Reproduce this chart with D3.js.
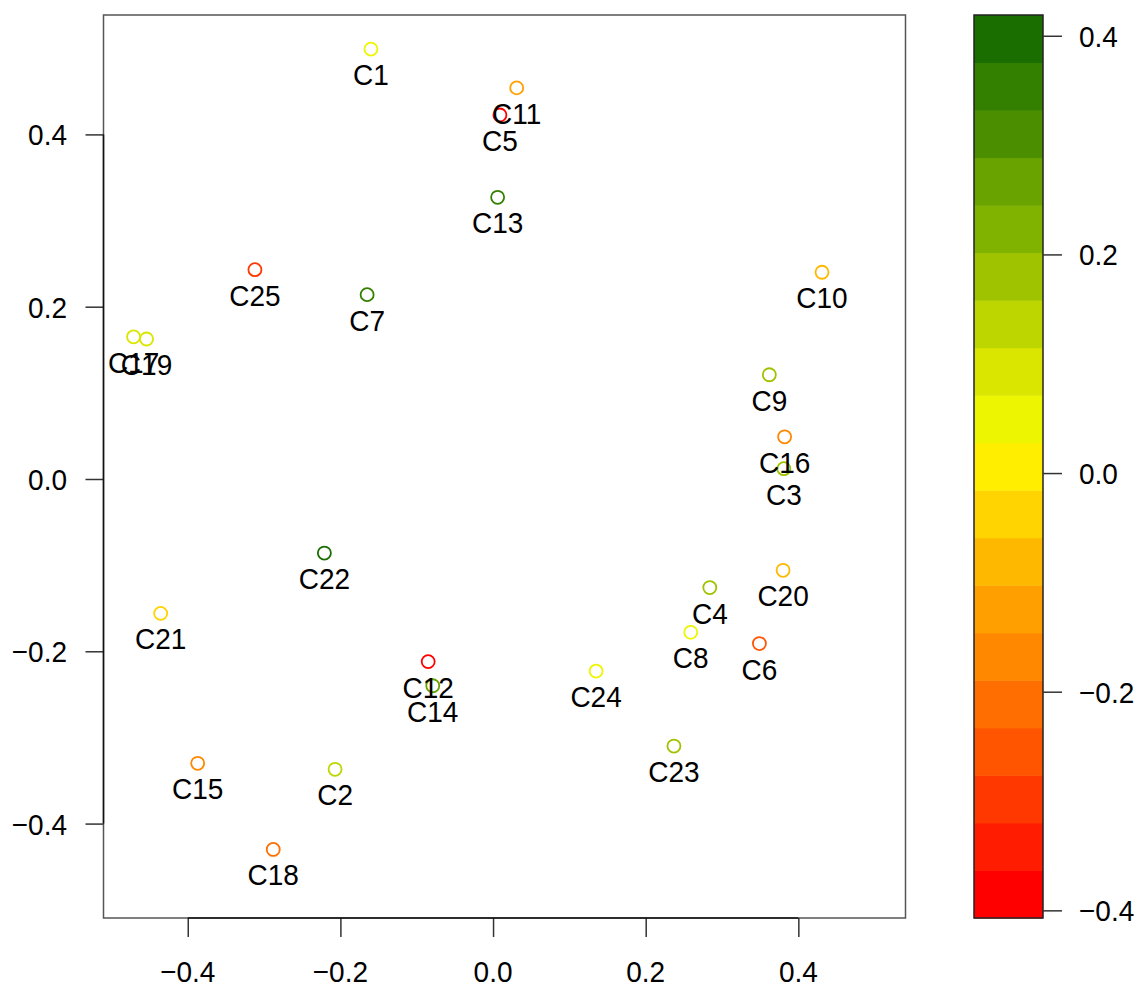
<!DOCTYPE html>
<html>
<head>
<meta charset="utf-8">
<script src="https://cdn.jsdelivr.net/npm/d3@7"></script>
<style>
  html, body { margin: 0; padding: 0; background: #ffffff; }
  svg { display: block; font-family: "Liberation Sans", Arial, Helvetica, sans-serif; }
</style>
</head>
<body>
<div id="chart"></div>
<script>
// ---------- data ----------
const pointLabels = ["C1","C2","C3","C4","C5","C6","C7","C8","C9","C10","C11","C12","C13",
                     "C14","C15","C16","C17","C18","C19","C20","C21","C22","C23","C24","C25"];
const xValues = [-0.160,-0.207,0.381,0.284,0.009,0.349,-0.165,0.259,0.362,0.431,0.031,-0.085,0.006,
                 -0.079,-0.387,0.382,-0.471,-0.288,-0.454,0.380,-0.4355,-0.221,0.237,0.135,-0.312];
const yValues = [0.499,-0.337,0.012,-0.126,0.4225,-0.191,0.214,-0.178,0.121,0.240,0.454,-0.212,0.327,
                 -0.240,-0.330,0.049,0.165,-0.430,0.1625,-0.106,-0.156,-0.086,-0.310,-0.223,0.243];
const colorValues = [0.04,0.13,0.20,0.17,-0.39,-0.25,0.35,0.05,0.18,-0.06,-0.12,-0.40,0.34,
                     0.27,-0.16,-0.17,0.09,-0.21,0.09,-0.08,-0.04,0.41,0.19,0.03,-0.30];

const axisTicks = [-0.4,-0.2,0.0,0.2,0.4];
const colorbarTicks = [-0.4,-0.2,0.0,0.2,0.4];
const xLimits = [-0.5104, 0.5404];
const yLimits = [-0.5096, 0.5386];
const colorLimits = [-0.407, 0.419];
const paletteColors = ["#FF0000","#FF1C00","#FF3800","#FF5500","#FF6E00","#FF8800","#FFA000",
                       "#FFB800","#FFD400","#FFEE00","#EEF500","#DAE600","#BED600","#A0C300",
                       "#80B300","#68A300","#4B8F00","#338000","#1A6E00"];

// ---------- layout ----------
const W = 1141, H = 989;
const plot = { left: 103.5, right: 905.5, top: 15, bottom: 918 };
const bar = { left: 974, right: 1043, top: 15, bottom: 918 };
const fontSize = 28, stretch = 1.08;
const fmt = v => (v < 0 ? "\u2212" : "") + Math.abs(v).toFixed(1);

const svg = d3.select("#chart").append("svg").attr("width", W).attr("height", H);

const x = d3.scaleLinear().domain(xLimits).range([plot.left, plot.right]);
const y = d3.scaleLinear().domain(yLimits).range([plot.bottom, plot.top]);
const cy = d3.scaleLinear().domain(colorLimits).range([bar.bottom, bar.top]);
const color = d3.scaleQuantize().domain(colorLimits).range(paletteColors);

function label(g, tx, ty, str, anchor) {
  return g.append("text")
    .attr("transform", `translate(${tx},${ty}) scale(1,${stretch})`)
    .attr("text-anchor", anchor)
    .attr("font-size", fontSize)
    .attr("fill", "#000")
    .text(str);
}

// ---------- frame ----------
svg.append("rect")
  .attr("x", plot.left).attr("y", plot.top)
  .attr("width", plot.right - plot.left).attr("height", plot.bottom - plot.top)
  .attr("fill", "none").attr("stroke", "#555").attr("stroke-width", 1.5);

// ---------- axes ----------
const xAxisG = svg.append("g").attr("transform", `translate(0,${plot.bottom})`)
  .call(d3.axisBottom(x).tickValues(axisTicks).tickSize(19).tickFormat(""));
const yAxisG = svg.append("g").attr("transform", `translate(${plot.left},0)`)
  .call(d3.axisLeft(y).tickValues(axisTicks).tickSize(18).tickFormat(""));
[xAxisG, yAxisG].forEach(g => {
  g.select(".domain").remove();
  g.selectAll(".tick line").attr("stroke", "#333").attr("stroke-width", 1.5);
});
// axis lines between first and last tick
svg.append("line")
  .attr("x1", x(axisTicks[0])).attr("x2", x(axisTicks[axisTicks.length-1]))
  .attr("y1", plot.bottom).attr("y2", plot.bottom)
  .attr("stroke", "#111").attr("stroke-width", 1.5);
svg.append("line")
  .attr("y1", y(axisTicks[0])).attr("y2", y(axisTicks[axisTicks.length-1]))
  .attr("x1", plot.left).attr("x2", plot.left)
  .attr("stroke", "#111").attr("stroke-width", 1.5);

const tl = svg.append("g");
axisTicks.forEach(t => label(tl, x(t), 981.5, fmt(t), "middle"));
axisTicks.forEach(t => label(tl, 67, y(t) + 11, fmt(t), "end"));

// ---------- points ----------
const pts = pointLabels.map((n, i) => ({ n, x: xValues[i], y: yValues[i], v: colorValues[i] }));

svg.append("g").selectAll("circle").data(pts).join("circle")
  .attr("cx", d => x(d.x)).attr("cy", d => y(d.y)).attr("r", 6.5)
  .attr("fill", "none").attr("stroke", d => color(d.v)).attr("stroke-width", 1.8);

const lg = svg.append("g");
pts.forEach(d => label(lg, x(d.x), y(d.y) + 36, d.n, "middle"));

// ---------- colour bar ----------
const cb = svg.append("g");
cb.selectAll("rect.band").data(paletteColors).join("rect")
  .attr("class", "band")
  .attr("x", bar.left)
  .attr("width", bar.right - bar.left)
  .attr("y", c => cy(color.invertExtent(c)[1]))
  .attr("height", c => cy(color.invertExtent(c)[0]) - cy(color.invertExtent(c)[1]) + 0.5)
  .attr("fill", c => c);
cb.append("rect")
  .attr("x", bar.left).attr("y", bar.top)
  .attr("width", bar.right - bar.left).attr("height", bar.bottom - bar.top)
  .attr("fill", "none").attr("stroke", "#222").attr("stroke-width", 1.5);
const cbAxis = svg.append("g").attr("transform", `translate(${bar.right},0)`)
  .call(d3.axisRight(cy).tickValues(colorbarTicks).tickSize(19).tickFormat(""));
cbAxis.select(".domain").remove();
cbAxis.selectAll(".tick line").attr("stroke", "#333").attr("stroke-width", 1.5);
colorbarTicks.forEach(t => label(cb, 1079, cy(t) + 11, fmt(t), "start"));
</script>
</body>
</html>
